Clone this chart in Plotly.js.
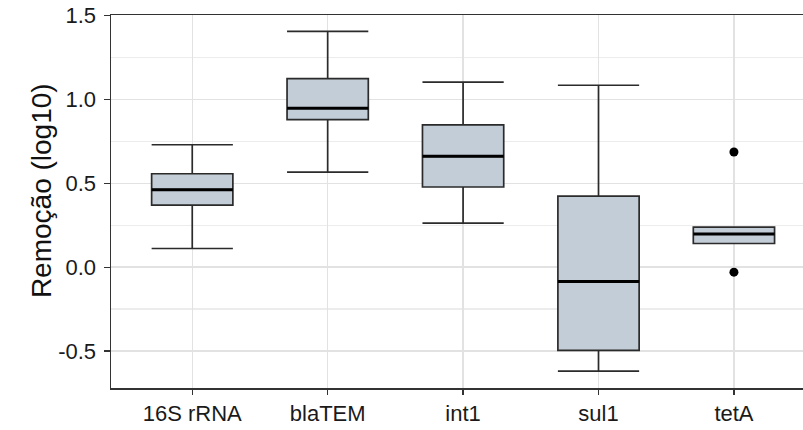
<!DOCTYPE html>
<html>
<head>
<meta charset="utf-8">
<script src="https://cdn.plot.ly/plotly-3.0.1.min.js"></script>
<style>
  html, body { margin: 0; padding: 0; background: #ffffff; }
  #chart { width: 803px; height: 430px; }
</style>
</head>
<body>
<div id="chart"></div>
<script>
// Gene targets and their log10 removal summaries
const categories   = ['16S rRNA', 'blaTEM', 'int1', 'sul1', 'tetA'];
const lowerWhisker = [0.111, 0.567, 0.263, -0.620, 0.141];
const q1           = [0.370, 0.880, 0.478, -0.496, 0.141];
const medians      = [0.462, 0.948, 0.661, -0.086, 0.197];
const q3           = [0.557, 1.124, 0.848, 0.424, 0.239];
const upperWhisker = [0.730, 1.406, 1.103, 1.085, 0.239];

// Points beyond the whiskers
const outlierCategory = ['tetA', 'tetA'];
const outlierValue    = [0.687, -0.030];

const yTicks = [-0.5, 0.0, 0.5, 1.0, 1.5];
const yTickText = ['-0.5', '0.0', '0.5', '1.0', '1.5'];
const yTitle = 'Remoção (log10)';

const boxWidth = 0.6;
const outline = '#2b2b2b';

const boxes = {
  type: 'box',
  x: categories,
  q1: q1,
  median: medians,
  q3: q3,
  lowerfence: lowerWhisker,
  upperfence: upperWhisker,
  boxpoints: false,
  width: boxWidth,
  fillcolor: '#c3cdd7',
  line: { color: outline, width: 1.7 },
  whiskerwidth: 1,
  showlegend: false,
  hoverinfo: 'skip'
};

const outliers = {
  type: 'scatter',
  mode: 'markers',
  x: outlierCategory,
  y: outlierValue,
  marker: { color: '#000000', size: 9 },
  showlegend: false,
  hoverinfo: 'skip'
};

// Heavy median bars drawn over each box
const medianShapes = medians.map((m, i) => ({
  type: 'line',
  xref: 'x', yref: 'y',
  x0: i - boxWidth / 2, x1: i + boxWidth / 2,
  y0: m, y1: m,
  line: { color: '#000000', width: 3 }
}));

const layout = {
  width: 803,
  height: 430,
  margin: { l: 111, r: 0, t: 15, b: 42 },
  paper_bgcolor: '#ffffff',
  plot_bgcolor: '#ffffff',
  font: { family: 'Liberation Sans, Arial, sans-serif', color: '#333333' },
  boxgap: 0,
  boxgroupgap: 0,
  shapes: medianShapes,
  annotations: [{
    text: yTitle,
    xref: 'paper', yref: 'paper',
    x: -0.1, y: 0.53,
    xanchor: 'center', yanchor: 'middle',
    textangle: -90,
    showarrow: false,
    font: { size: 28, color: '#111111' }
  }],
  xaxis: {
    type: 'category',
    range: [-0.6, 4.51],
    showgrid: true,
    gridcolor: '#e2e2e2',
    gridwidth: 1.5,
    showline: true,
    linecolor: '#333333',
    linewidth: 1.5,
    mirror: true,
    ticks: 'outside',
    ticklen: 5,
    tickwidth: 1.2,
    tickcolor: '#333333',
    tickfont: { size: 22, color: '#1a1a1a' },
    zeroline: false
  },
  yaxis: {
    range: [-0.721, 1.504],
    tickvals: yTicks,
    ticktext: yTickText,
    showgrid: true,
    gridcolor: '#e2e2e2',
    gridwidth: 1.5,
    minor: { dtick: 0.25, showgrid: true, gridcolor: '#ececec', gridwidth: 1.2 },
    showline: true,
    linecolor: '#333333',
    linewidth: 1.5,
    mirror: false,
    ticks: 'outside',
    ticklen: 6,
    tickwidth: 1.2,
    tickcolor: '#333333',
    tickfont: { size: 22, color: '#1a1a1a' },
    ticklabelstandoff: 3,
    zeroline: false
  }
};

Plotly.newPlot('chart', [boxes, outliers], layout, { displayModeBar: false, staticPlot: true });
</script>
</body>
</html>
